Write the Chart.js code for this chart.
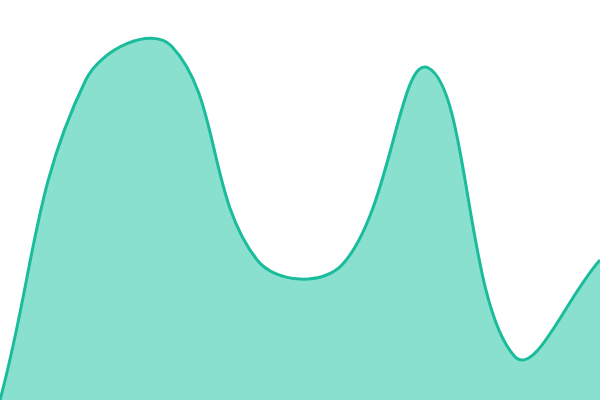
<!DOCTYPE html>
<html>
<head>
<meta charset="utf-8">
<script src="https://cdn.jsdelivr.net/npm/chart.js@4/dist/chart.umd.min.js"></script>
<style>
html,body{margin:0;padding:0;background:#fff;}
#wrap{width:600px;height:400px;}
</style>
</head>
<body>
<div id="wrap"><canvas id="c"></canvas></div>
<script>
const labels = ["1","2","3","4","5","6","7","8"];
const values = [0, 80, 88.5, 35, 34, 83, 11, 35];

new Chart(document.getElementById('c'), {
  type: 'line',
  data: {
    labels: labels,
    datasets: [{
      data: values,
      borderColor: '#1abc9c',
      backgroundColor: '#8ae0cf',
      borderWidth: 3,
      fill: 'origin',
      tension: 0.4,
      pointRadius: 0
    }]
  },
  options: {
    responsive: true,
    maintainAspectRatio: false,
    animation: false,
    layout: { padding: 0 },
    plugins: { legend: { display: false }, tooltip: { enabled: false } },
    scales: {
      x: { display: false },
      y: { display: false, min: 0, max: 100 }
    }
  }
});
</script>
</body>
</html>
